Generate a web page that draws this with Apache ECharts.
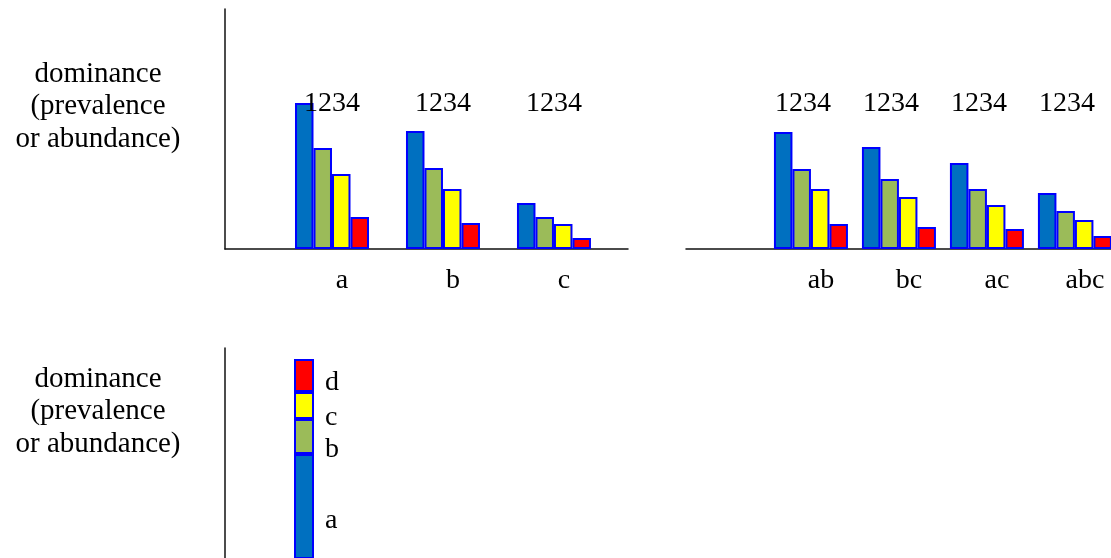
<!DOCTYPE html>
<html>
<head>
<meta charset="utf-8">
<script src="https://cdn.jsdelivr.net/npm/echarts@6/dist/echarts.min.js"></script>
<style>
	html,body{margin:0;padding:0;background:#fff;}
	#main{width:1111px;height:558px;}
</style>
</head>
<body>
<div id="main"></div>
<script>
	//单物种分组
	var groupsLeft = ['a', 'b', 'c'];
	var leftRank1 = [146, 118, 46];
	var leftRank2 = [101, 81, 32];
	var leftRank3 = [75, 60, 25];
	var leftRank4 = [32, 26, 11];
	//组合分组
	var groupsRight = ['ab', 'bc', 'ac', 'abc'];
	var rightRank1 = [117, 102, 86, 56];
	var rightRank2 = [80, 70, 60, 38];
	var rightRank3 = [60, 52, 44, 29];
	var rightRank4 = [25, 22, 20, 13];
	//堆叠柱
	var stackNames = ['a', 'b', 'c', 'd'];
	var stackValues = [134, 35, 27, 33];
	var rankTag = '1234';

	var colors = ['#0070C0', '#9BBB59', '#FFFF00', '#FF0000'];
	var font = '"Liberation Serif", "Times New Roman", serif';
	var yTitle = 'dominance\n(prevalence\nor abundance)';

	function pairs(arr) {
		return arr.map(function (v, i) { return [i, v]; });
	}
	function barSeries(arr, idx, axisIdx) {
		return {
			type: 'bar',
			xAxisIndex: axisIdx,
			yAxisIndex: axisIdx,
			barWidth: 18.5,
			barGap: '0%',
			data: pairs(arr),
			itemStyle: {color: colors[idx], borderColor: '#0000FF', borderWidth: 2}
		};
	}
	function tagSeries(groups, axisIdx, dx) {
		return {
			type: 'scatter',
			xAxisIndex: axisIdx,
			yAxisIndex: axisIdx,
			symbolSize: 0,
			z: 5,
			itemStyle: {opacity: 1},
			data: groups.map(function (g, i) { return [i, 145]; }),
			label: {
				show: true, position: 'inside', offset: [dx, 0],
				formatter: function () { return rankTag; },
				fontFamily: font, fontSize: 28, color: '#000'
			}
		};
	}
	function valueX(idx, min, max, groups) {
		return {
			type: 'value', gridIndex: idx, min: min, max: max,
			splitLine: {show: false},
			axisTick: {show: false},
			axisLine: {onZero: false, lineStyle: {color: '#111', width: 1.5}},
			axisLabel: {
				customValues: groups.map(function (g, i) { return i; }),
				formatter: function (v) { return groups[Math.round(v)]; },
				fontFamily: font, fontSize: 28, color: '#000',
				margin: 18, padding: [0, 0, 0, 20]
			}
		};
	}
	function valueY(idx, showLine, min) {
		return {
			type: 'value', gridIndex: idx, min: min, max: 240,
			splitLine: {show: false},
			axisTick: {show: false},
			axisLabel: {show: false},
			axisLine: {show: showLine, onZero: false, lineStyle: {color: '#111', width: 1.5}}
		};
	}

	var chart = echarts.init(document.getElementById('main'));
	var series = [];
	[leftRank1, leftRank2, leftRank3, leftRank4].forEach(function (arr, i) {
		series.push(barSeries(arr, i, 0));
	});
	[rightRank1, rightRank2, rightRank3, rightRank4].forEach(function (arr, i) {
		series.push(barSeries(arr, i, 1));
	});
	series.push(tagSeries(groupsLeft, 0, 0));
	series.push(tagSeries(groupsRight, 1, -8));
	//标签下移量
	var labelShift = [14, 13, 12, 7];
	stackNames.forEach(function (name, i) {
		series.push({
			type: 'bar',
			name: name,
			xAxisIndex: 2,
			yAxisIndex: 2,
			stack: 'all',
			barWidth: 20,
			data: [stackValues[i]],
			itemStyle: {color: colors[i], borderColor: '#0000FF', borderWidth: 2},
			label: {
				show: true, position: 'right', distance: 11,
				offset: [0, labelShift[i]],
				formatter: '{a}',
				fontFamily: font, fontSize: 28, color: '#000'
			}
		});
	});

	var option = {
		animation: false,
		grid: [
			{left: 225, top: 9, width: 403, height: 240},
			{left: 686, top: 9, width: 425, height: 240},
			//下方图表底部超出画面，纵轴从30开始保持同样比例
			{left: 225, top: 348, width: 158, height: 210}
		],
		xAxis: [
			valueX(0, -0.964, 2.667, groupsLeft),
			valueX(1, -1.42, 3.41, groupsRight),
			{type: 'category', gridIndex: 2, data: [''], axisLine: {show: false}, axisTick: {show: false}, axisLabel: {show: false}}
		],
		yAxis: [valueY(0, true, 0), valueY(1, false, 0), valueY(2, true, 30)],
		graphic: [
			{type: 'text', x: 98, y: 58, style: {text: yTitle, fontFamily: font, fontSize: 29, lineHeight: 32.5, align: 'center', verticalAlign: 'top', fill: '#000'}},
			{type: 'text', x: 98, y: 363, style: {text: yTitle, fontFamily: font, fontSize: 29, lineHeight: 32.5, align: 'center', verticalAlign: 'top', fill: '#000'}}
		],
		series: series
	};
	chart.setOption(option);
</script>
</body>
</html>
